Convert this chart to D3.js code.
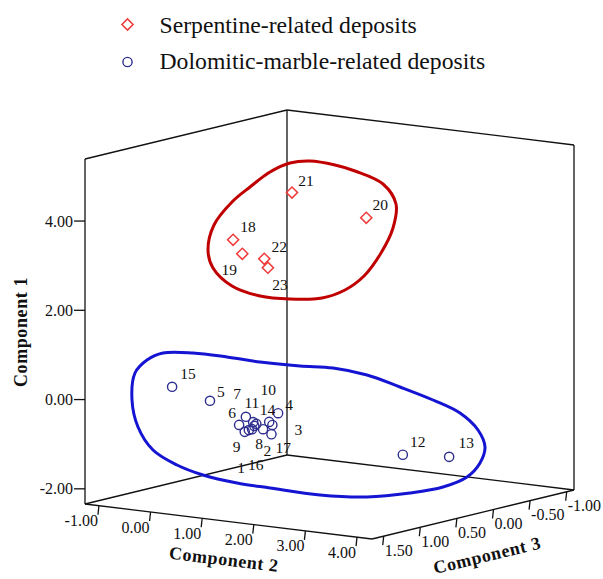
<!DOCTYPE html>
<html>
<head>
<meta charset="utf-8">
<script src="https://cdn.jsdelivr.net/npm/d3@7"></script>
<style>
  body { margin: 0; background: #fff; }
  svg { display: block; font-family: "Liberation Serif", "Times New Roman", serif; }
</style>
</head>
<body>
<svg id="chart" width="603" height="579"></svg>
<script>
// ---- data: principal component scores ----
var serpIds = [18, 19, 20, 21, 22, 23];
var serpC1 = [3.47, 3.24, 3.67, 4.33, 3.01, 2.82];
var serpC2 = [0.38, 0.70, 1.40, 0.67, 0.70, 0.77];
var serpC3 = [0.80, 0.90, -0.30, 0.20, 0.60, 0.60];

var dolIds = [1, 2, 3, 4, 5, 6, 7, 8, 9, 10, 11, 12, 13, 14, 15, 16, 17];
var dolC1 = [-0.96, -1.00, -1.20, -0.68, -0.26, -0.87, -0.83, -1.02, -0.98, -0.81, -0.70, -1.48, -1.64, -0.93, 0.07, -0.90, -0.92];
var dolC2 = [0.18, -0.06, 0.13, 0.33, -0.21, 0.00, 0.13, 0.18, 0.18, 0.37, 0.06, 2.25, 2.58, 0.29, -0.66, 0.33, 0.05];
var dolC3 = [0.40, 0.20, 0.10, 0.15, 0.70, 0.45, 0.35, 0.25, 0.50, 0.30, 0.40, -0.20, -0.60, 0.20, 0.90, 0.55, 0.25];

var c1Ticks = [-2, 0, 2, 4];
var c2Ticks = [-1, 0, 1, 2, 3, 4];
var c3Ticks = [1.5, 1, 0.5, 0, -0.5, -1];

var legendLabels = ['Serpentine-related deposits', 'Dolomitic-marble-related deposits'];

// ---- layout ----
// label nudges (px) from each marker, as placed in the original
var labelNudge = {
  18: [15, -13], 19: [-13, 16], 20: [14, -13], 21: [14, -12], 22: [15, -12], 23: [12, 17],
  1: [-11, 38], 2: [13, 25], 3: [27, -5], 4: [11, -9], 5: [11, -9], 6: [-7, -12],
  7: [-16, -29], 8: [-4, 14], 9: [-8, 15], 10: [-1, -32], 11: [6, -14], 12: [15, -13],
  13: [17, -14], 14: [-5, -15], 15: [16, -13], 16: [7, 34], 17: [27, 24]
};

// hand-drawn group outlines (screen px)
var redLoop = [[290, 163], [310, 161], [335, 165], [355, 171], [383, 184], [396, 204], [393, 228],
  [381, 253], [364, 276], [345, 290], [322, 298], [290, 299], [260, 296], [232, 286], [213, 268],
  [208, 250], [214, 225], [232, 202], [250, 187], [270, 172]];
var blueLoop = [[132, 400], [135, 373], [147, 360], [163, 353], [193, 353], [227, 357], [260, 362],
  [300, 366], [333, 368], [367, 375], [400, 387], [433, 400], [460, 413], [478, 430], [485, 447],
  [480, 463], [467, 477], [443, 487], [410, 493], [367, 497], [320, 495], [270, 488], [237, 483],
  [203, 475], [177, 465], [153, 450], [138, 427]];

var svg = d3.select('#chart');

// the box: back floor corner and one screen vector per component
var origin = [287, 455];
var vecC1 = [0, -345];
var vecC2 = [287, 35];
var vecC3 = [-202, 49];

var s1 = d3.scaleLinear().domain([-2.34, 5.39]).range([0, 1]);
var s2 = d3.scaleLinear().domain([-1.27, 4.29]).range([0, 1]);
var s3 = d3.scaleLinear().domain([-1.1, 1.66]).range([0, 1]);

function project(c1, c2, c3) {
  var a = s1(c1), b = s2(c2), c = s3(c3);
  return [
    origin[0] + a * vecC1[0] + b * vecC2[0] + c * vecC3[0],
    origin[1] + a * vecC1[1] + b * vecC2[1] + c * vecC3[1]
  ];
}

var lo1 = s1.domain()[0], hi1 = s1.domain()[1];
var lo2 = s2.domain()[0], hi2 = s2.domain()[1];
var lo3 = s3.domain()[0], hi3 = s3.domain()[1];

var backB = project(lo1, lo2, lo3), backT = project(hi1, lo2, lo3);
var leftB = project(lo1, lo2, hi3), leftT = project(hi1, lo2, hi3);
var rightB = project(lo1, hi2, lo3), rightT = project(hi1, hi2, lo3);
var frontB = project(lo1, hi2, hi3);

var edges = [
  [leftB, leftT], [backB, backT], [rightB, rightT],
  [leftT, backT], [backT, rightT],
  [leftB, backB], [backB, rightB], [leftB, frontB], [frontB, rightB]
];

svg.append('g')
  .selectAll('line')
  .data(edges)
  .enter()
  .append('line')
  .attr('x1', d => d[0][0])
  .attr('y1', d => d[0][1])
  .attr('x2', d => d[1][0])
  .attr('y2', d => d[1][1])
  .attr('stroke', '#111')
  .attr('stroke-width', 1.3);

// SPSS prints a plain hyphen for negatives
var fmt = d3.formatLocale({ decimal: '.', thousands: ',', grouping: [3], currency: ['', ''], minus: '-' }).format('.2f');
var tickFont = 16;

// Component 1 ticks on the left edge
var t1 = svg.append('g').selectAll('g').data(c1Ticks).enter().append('g')
  .attr('transform', v => {
    var p = project(v, lo2, hi3);
    return `translate(${p[0]},${p[1]})`;
  });
t1.append('line').attr('x1', -11).attr('x2', 0).attr('stroke', '#111').attr('stroke-width', 1.3);
t1.append('text')
  .attr('x', -12)
  .attr('dy', '0.35em')
  .attr('text-anchor', 'end')
  .attr('font-size', tickFont)
  .attr('fill', '#111')
  .text(fmt);

// Component 2 ticks along the front-left floor edge
var t2 = svg.append('g').selectAll('g').data(c2Ticks).enter().append('g')
  .attr('transform', v => {
    var p = project(lo1, v, hi3);
    return `translate(${p[0]},${p[1]})`;
  });
t2.append('line').attr('x1', 0).attr('y1', 0).attr('x2', -1).attr('y2', 9)
  .attr('stroke', '#111').attr('stroke-width', 1.3);
t2.append('text')
  .attr('x', -1)
  .attr('y', 15)
  .attr('dy', '0.35em')
  .attr('text-anchor', 'end')
  .attr('font-size', tickFont)
  .attr('fill', '#111')
  .text(fmt);

// Component 3 ticks along the front-right floor edge
var t3 = svg.append('g').selectAll('g').data(c3Ticks).enter().append('g')
  .attr('transform', v => {
    var p = project(lo1, hi2, v);
    return `translate(${p[0]},${p[1]})`;
  });
t3.append('line').attr('x1', 0).attr('y1', 0).attr('x2', -1).attr('y2', 9)
  .attr('stroke', '#111').attr('stroke-width', 1.3);
t3.append('text')
  .attr('x', 1)
  .attr('y', 14)
  .attr('dy', '0.35em')
  .attr('text-anchor', 'start')
  .attr('font-size', tickFont)
  .attr('fill', '#111')
  .text(fmt);

// axis titles
function axisTitle(txt, pos, angle) {
  svg.append('text')
    .attr('transform', `translate(${pos[0]},${pos[1]}) rotate(${angle})`)
    .attr('text-anchor', 'middle')
    .attr('dy', '0.35em')
    .attr('font-size', 18)
    .attr('font-weight', 'bold')
    .attr('letter-spacing', 0.6)
    .attr('fill', '#111')
    .text(txt);
}
var ang2 = Math.atan2(vecC2[1], vecC2[0]) * 180 / Math.PI;
var ang3 = Math.atan2(-vecC3[1], -vecC3[0]) * 180 / Math.PI;
axisTitle('Component 1', [21, 332], -90);
axisTitle('Component 2', [224, 559], ang2);
axisTitle('Component 3', [487, 555], ang3);

// group outlines
var loopLine = d3.line().curve(d3.curveCatmullRomClosed.alpha(0.5));
svg.append('path').attr('d', loopLine(redLoop))
  .attr('fill', 'none').attr('stroke', '#c00000').attr('stroke-width', 3);
svg.append('path').attr('d', loopLine(blueLoop))
  .attr('fill', 'none').attr('stroke', '#1414d2').attr('stroke-width', 3);

// markers
var diamond = d3.symbol().type(d3.symbolSquare).size(62);
var redColor = '#f03a3a';
var blueColor = '#2e2e8e';

function buildPoints(ids, c1, c2, c3) {
  return ids.map((id, i) => ({ id: id, p: project(c1[i], c2[i], c3[i]) }));
}
var serpPts = buildPoints(serpIds, serpC1, serpC2, serpC3);
var dolPts = buildPoints(dolIds, dolC1, dolC2, dolC3);

svg.append('g')
  .selectAll('circle')
  .data(dolPts)
  .enter()
  .append('circle')
  .attr('cx', d => d.p[0])
  .attr('cy', d => d.p[1])
  .attr('r', 4.6)
  .attr('fill', 'none')
  .attr('stroke', blueColor)
  .attr('stroke-width', 1.4);

svg.append('g')
  .selectAll('path')
  .data(serpPts)
  .enter()
  .append('path')
  .attr('d', diamond)
  .attr('transform', d => `translate(${d.p[0]},${d.p[1]}) rotate(45)`)
  .attr('fill', 'none')
  .attr('stroke', redColor)
  .attr('stroke-width', 1.5);

// point labels
svg.append('g')
  .selectAll('text')
  .data(serpPts.concat(dolPts))
  .enter()
  .append('text')
  .attr('x', d => d.p[0] + labelNudge[d.id][0])
  .attr('y', d => d.p[1] + labelNudge[d.id][1])
  .attr('dy', '0.35em')
  .attr('text-anchor', 'middle')
  .attr('font-size', 15.5)
  .attr('fill', '#111')
  .text(d => d.id);

// legend
var legend = svg.append('g').attr('transform', 'translate(127.5,0)');
legend.append('path')
  .attr('d', diamond)
  .attr('transform', 'translate(0,24.5) rotate(45)')
  .attr('fill', 'none')
  .attr('stroke', redColor)
  .attr('stroke-width', 1.5);
legend.append('circle')
  .attr('cx', 0)
  .attr('cy', 62)
  .attr('r', 4.6)
  .attr('fill', 'none')
  .attr('stroke', blueColor)
  .attr('stroke-width', 1.4);
legend.selectAll('text')
  .data(legendLabels)
  .enter()
  .append('text')
  .attr('x', 32)
  .attr('y', (d, i) => 33 + i * 36)
  .attr('font-size', 23.7)
  .attr('fill', '#111')
  .text(d => d);
</script>
</body>
</html>
